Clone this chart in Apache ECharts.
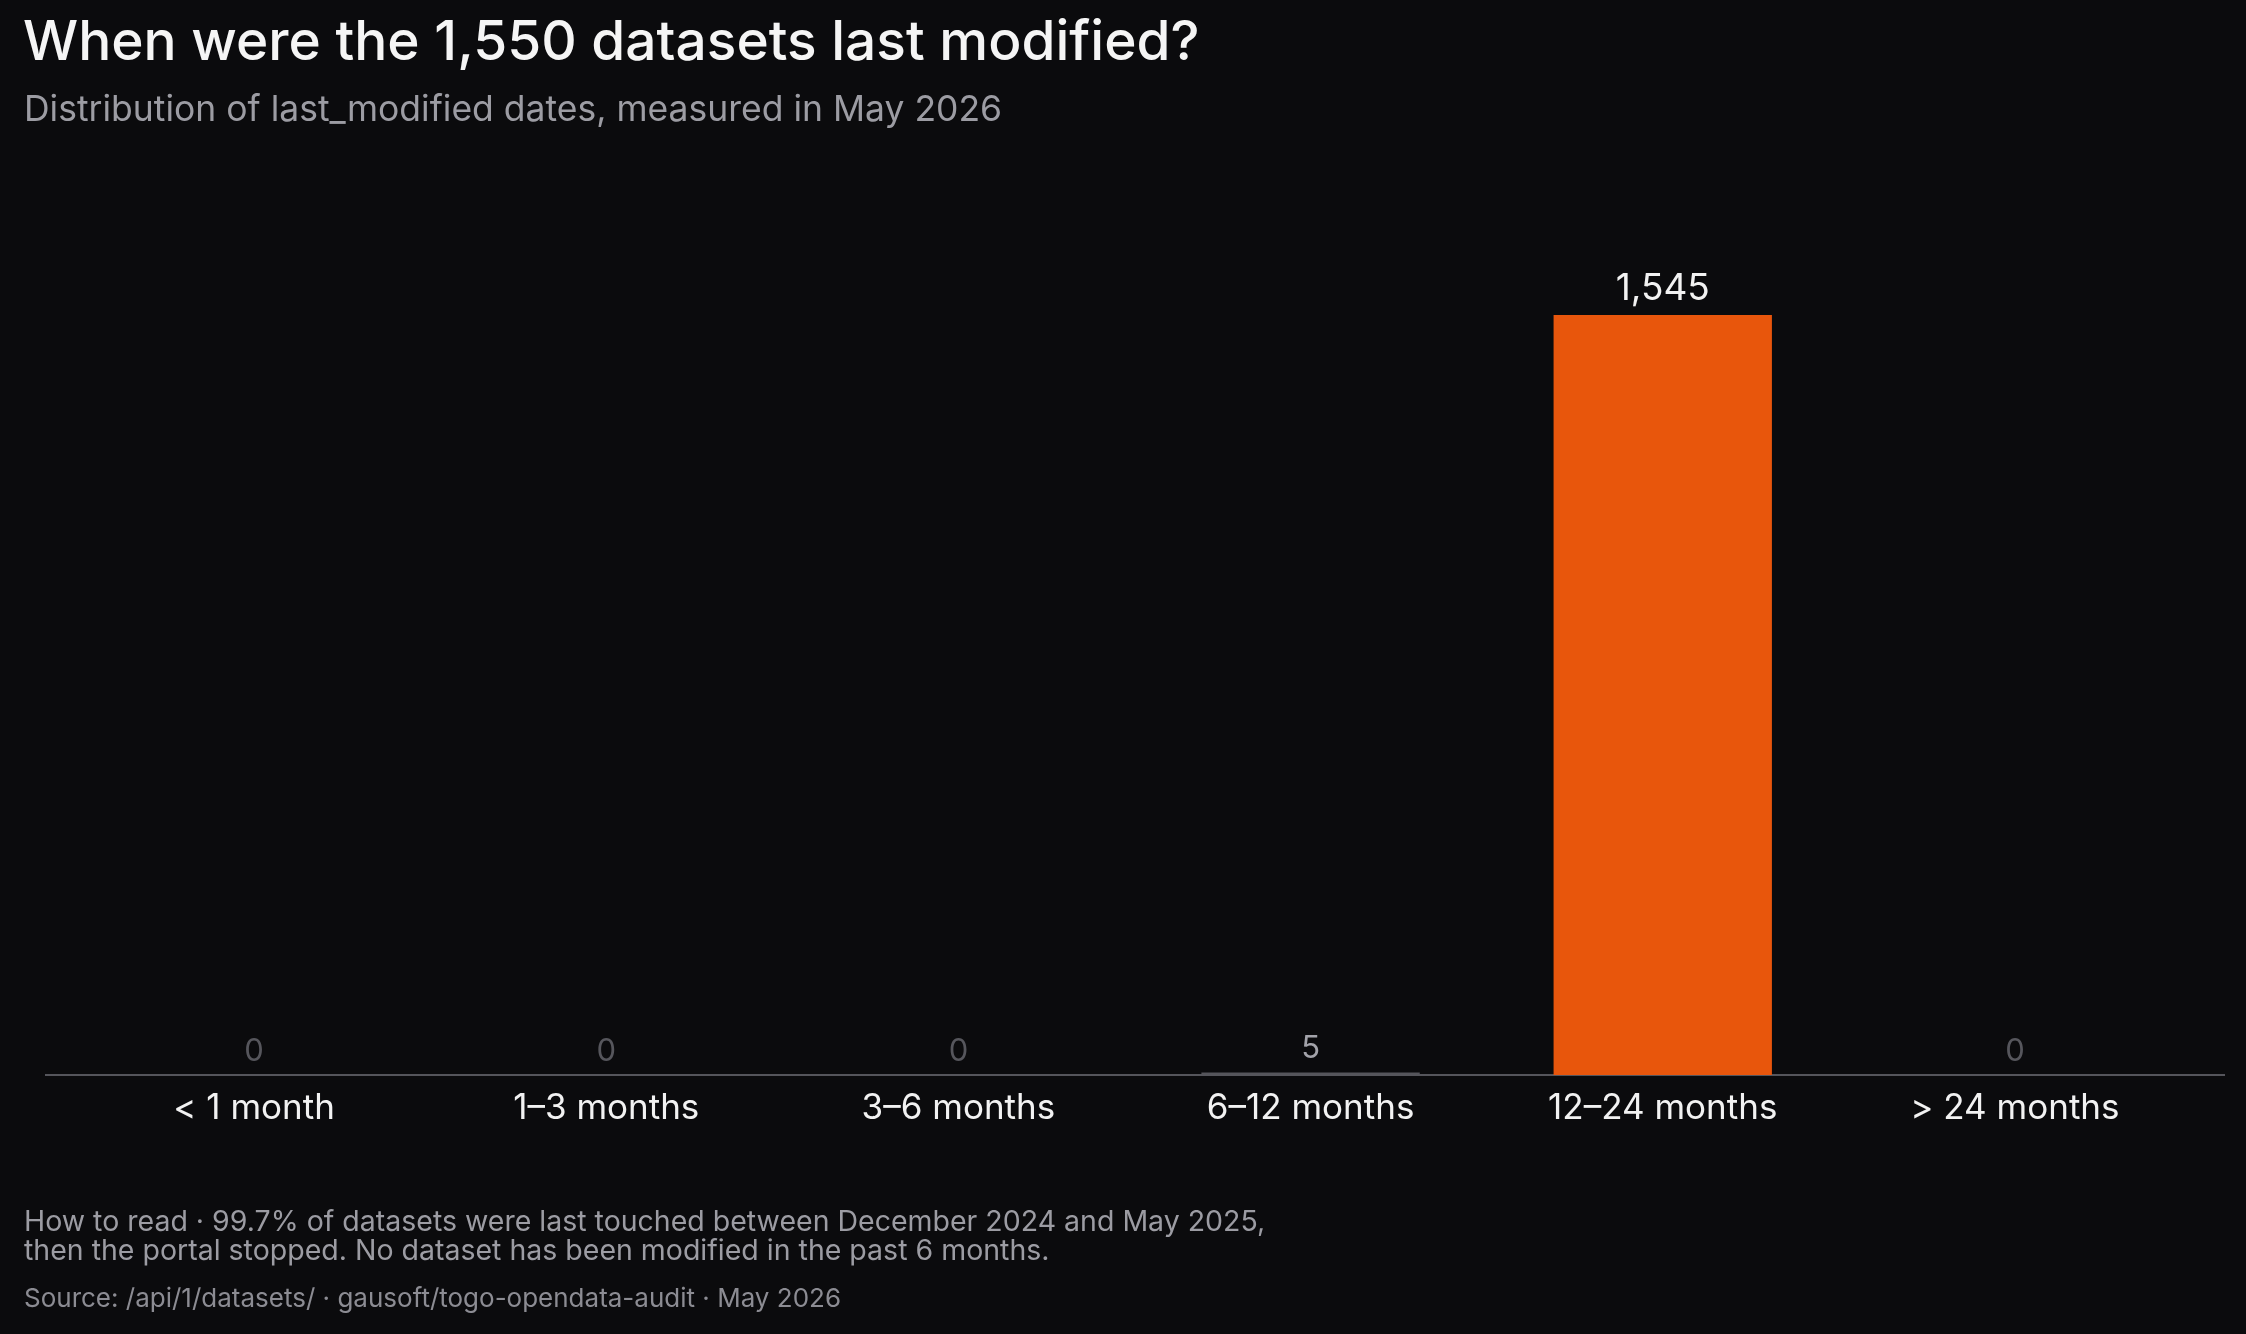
<!DOCTYPE html>
<html>
<head>
<meta charset="utf-8">
<script src="https://cdn.jsdelivr.net/npm/echarts@6/dist/echarts.min.js"></script>
<style>
    html,body{margin:0;padding:0;background:#0b0b0d;}
    #chart{width:2246px;height:1334px;}
</style>
</head>
<body>
<div id="chart"></div>
<script>
    var categories = ['< 1 month', '1–3 months', '3–6 months', '6–12 months', '12–24 months', '> 24 months'];
    var counts = [0, 0, 0, 5, 1545, 0];
    var highlight = '12–24 months';

    var font = 'Inter, "Noto Sans", sans-serif';

    //每个柱子的样式
    var barData = counts.map(function(v, i){
        var isMax = categories[i] == highlight;
        return {
            value: v,
            itemStyle: {color: isMax ? '#e8560c' : '#55555b'},
            label: {
                color: isMax ? '#f2f2f2' : (v > 0 ? '#a3a3aa' : '#56565c'),
                fontSize: isMax ? 37 : 31
            }
        };
    });

    var chart = echarts.init(document.getElementById('chart'));
    chart.setOption({
        backgroundColor: '#0b0b0d',
        textStyle: {fontFamily: font},
        title: [
            {
                text: 'When were the 1,550 datasets last modified?',
                left: 18, top: 11,
                textStyle: {color: '#f5f5f5', fontSize: 55, fontWeight: 500, fontFamily: font}
            }, {
                text: 'Distribution of last_modified dates, measured in May 2026',
                left: 19, top: 87,
                textStyle: {color: '#9c9ca3', fontSize: 35.5, fontWeight: 400, fontFamily: font}
            }, {
                text: 'How to read · 99.7% of datasets were last touched between December 2024 and May 2025,\nthen the portal stopped. No dataset has been modified in the past 6 months.',
                left: 19, top: 1203,
                textStyle: {color: '#9c9ca3', fontSize: 28.5, fontWeight: 400, lineHeight: 29, fontFamily: font}
            }, {
                text: 'Source: /api/1/datasets/ · gausoft/togo-opendata-audit · May 2026',
                left: 19, top: 1281,
                textStyle: {color: '#8c8c93', fontSize: 26, fontWeight: 400, fontFamily: font}
            }
        ],
        grid: {left: 78, right: 55, top: 315, bottom: 259, containLabel: false},
        xAxis: {
            type: 'category',
            data: categories,
            axisLine: {show: false},
            axisTick: {show: false},
            axisLabel: {color: '#f2f2f2', fontSize: 35, margin: 16, fontFamily: font}
        },
        yAxis: {
            type: 'value',
            min: 0,
            max: 1545,
            show: false,
            splitLine: {show: false}
        },
        series: [{
            type: 'bar',
            data: barData,
            barWidth: '62%',
            z: 3,
            label: {
                show: true,
                position: 'top',
                distance: 8,
                fontFamily: font,
                formatter: function(p){ return p.value.toLocaleString('en-US'); }
            }
        }]
    });

    //基线比分类区更宽
    var baseY = chart.convertToPixel({yAxisIndex: 0}, 0);
    chart.setOption({
        graphic: [{
            type: 'line',
            z: 2,
            shape: {x1: 45, y1: baseY, x2: 2225, y2: baseY},
            style: {stroke: '#55555b', lineWidth: 2}
        }]
    });
</script>
</body>
</html>
